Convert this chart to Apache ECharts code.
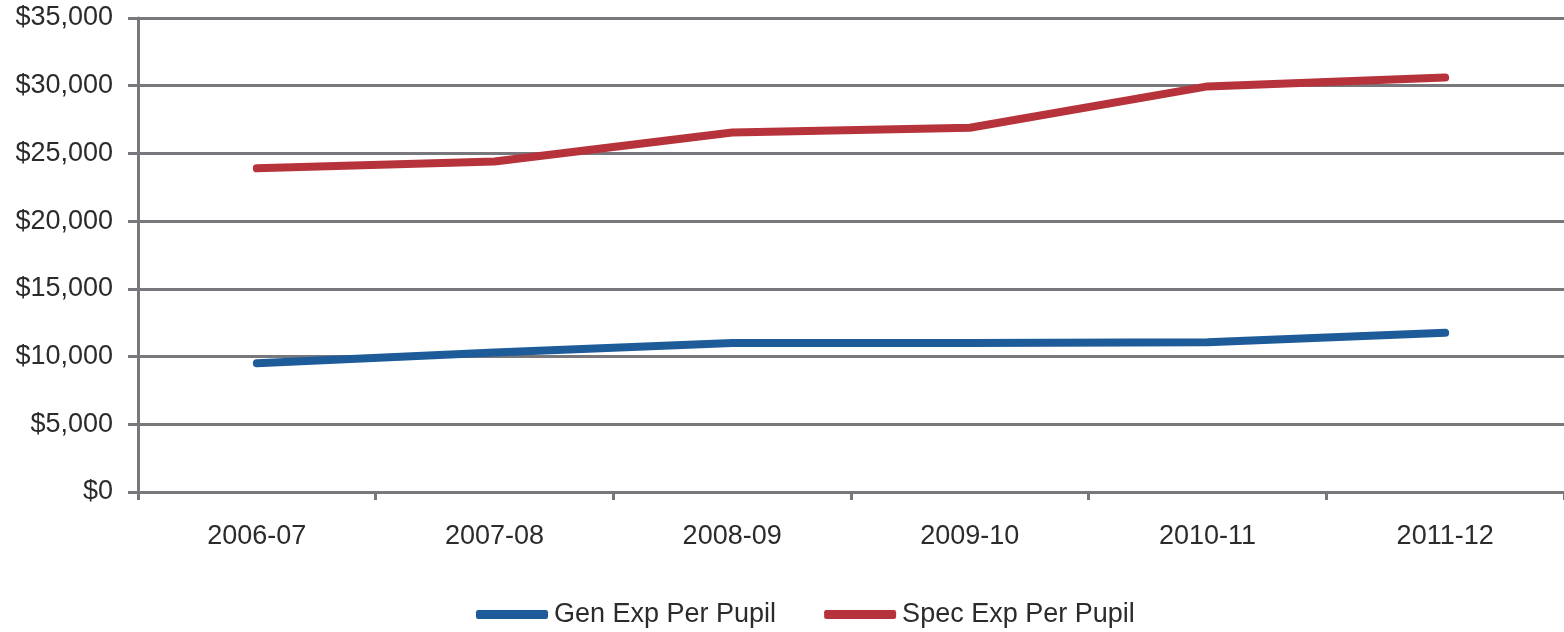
<!DOCTYPE html>
<html>
<head>
<meta charset="utf-8">
<title>Expenditure Per Pupil</title>
<script src="https://cdn.jsdelivr.net/npm/echarts@6/dist/echarts.min.js"></script>
<style>
  html, body { margin: 0; padding: 0; background: #ffffff; }
  #chart { width: 1564px; height: 632px; }
</style>
</head>
<body>
<div id="chart"></div>
<script>
// School years on the horizontal axis
const years = ['2006-07', '2007-08', '2008-09', '2009-10', '2010-11', '2011-12'];

// Expenditure per pupil, in dollars
const genExpPerPupil = [9500, 10300, 11000, 11000, 11050, 11750];
const specExpPerPupil = [23900, 24400, 26550, 26900, 29950, 30600];

// Value axis range
const yMin = 0;
const yMax = 35000;
const yStep = 5000;

const seriesNames = ['Gen Exp Per Pupil', 'Spec Exp Per Pupil'];
const seriesColors = ['#1d5c98', '#b7333b'];

const FONT = '"Liberation Sans", Arial, Helvetica, sans-serif';
const TEXT_COLOR = '#2b2b2b';
const GRID_COLOR = '#77777c';

function dollars(v) {
  return '$' + v.toLocaleString('en-US');
}

const chart = echarts.init(document.getElementById('chart'), null, { renderer: 'canvas' });

chart.setOption({
  backgroundColor: '#ffffff',
  animation: false,
  textStyle: { fontFamily: FONT },
  grid: {
    left: 138,
    top: 18,
    width: 1434,
    height: 474,
    containLabel: false
  },
  legend: {
    data: seriesNames,
    left: 471,
    top: 596,
    icon: 'roundRect',
    itemWidth: 72,
    itemHeight: 9,
    itemGap: 48,
    textStyle: {
      fontFamily: FONT,
      fontSize: 27,
      color: TEXT_COLOR,
      padding: [0, 0, 0, 1]
    }
  },
  xAxis: {
    type: 'category',
    data: years,
    boundaryGap: true,
    axisLine: { show: true, lineStyle: { color: GRID_COLOR, width: 3 } },
    axisTick: {
      show: true,
      inside: false,
      length: 8,
      alignWithLabel: false,
      lineStyle: { color: GRID_COLOR, width: 3 }
    },
    axisLabel: {
      color: TEXT_COLOR,
      fontFamily: FONT,
      fontSize: 27,
      margin: 31
    },
    splitLine: { show: false }
  },
  yAxis: {
    type: 'value',
    min: yMin,
    max: yMax,
    interval: yStep,
    axisLine: { show: true, lineStyle: { color: GRID_COLOR, width: 3 } },
    axisTick: {
      show: true,
      length: 10,
      lineStyle: { color: GRID_COLOR, width: 3 }
    },
    axisLabel: {
      color: TEXT_COLOR,
      fontFamily: FONT,
      fontSize: 27,
      margin: 25,
      formatter: dollars
    },
    splitLine: { show: true, lineStyle: { color: GRID_COLOR, width: 3 } }
  },
  series: [
    {
      name: seriesNames[0],
      type: 'line',
      data: genExpPerPupil,
      color: seriesColors[0],
      symbol: 'none',
      smooth: false,
      lineStyle: { width: 8, color: seriesColors[0], cap: 'round', join: 'round' }
    },
    {
      name: seriesNames[1],
      type: 'line',
      data: specExpPerPupil,
      color: seriesColors[1],
      symbol: 'none',
      smooth: false,
      lineStyle: { width: 8, color: seriesColors[1], cap: 'round', join: 'round' }
    }
  ]
});
</script>
</body>
</html>
